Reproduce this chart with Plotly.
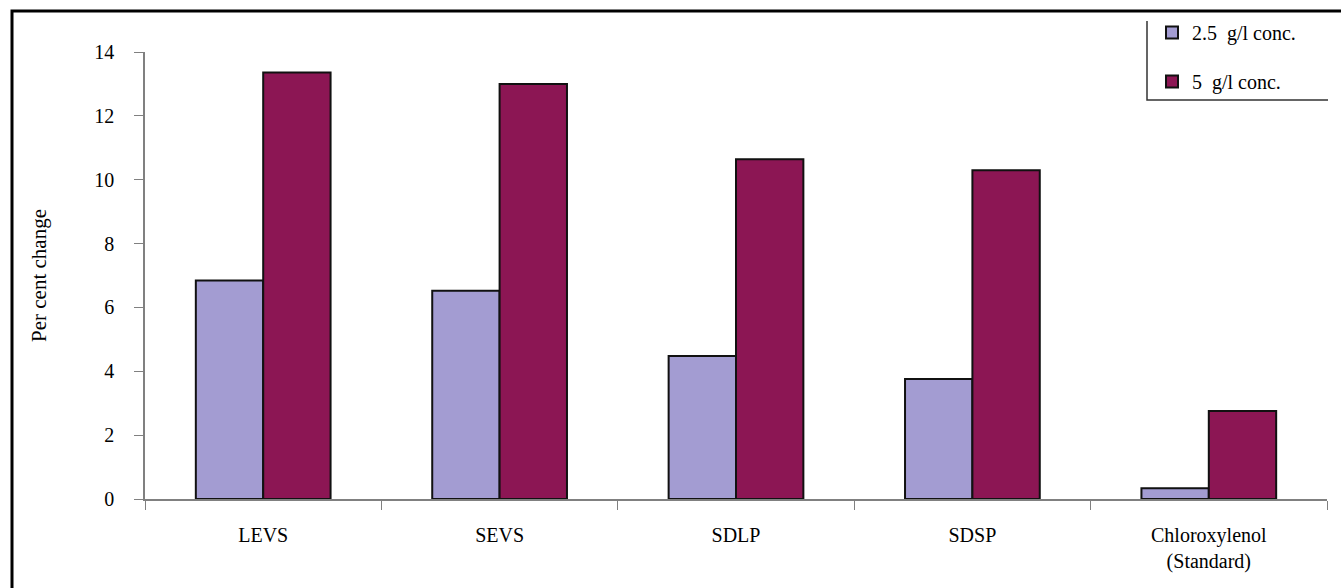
import plotly.graph_objects as go

# Data
categories = ["LEVS", "SEVS", "SDLP", "SDSP", "Chloroxylenol<br>(Standard)"]
conc_25 = [6.84, 6.52, 4.48, 3.76, 0.34]
conc_5 = [13.36, 13.0, 10.64, 10.3, 2.76]
series_names = ["2.5  g/l conc.", "5  g/l conc."]
y_ticks = [0, 2, 4, 6, 8, 10, 12, 14]

FONT = "Liberation Serif, Times New Roman, serif"
LAV = "#a39cd2"
MAROON = "#8c1654"

fig = go.Figure()
fig.add_trace(go.Bar(
    x=categories, y=conc_25, name=series_names[0], legendgroup="a",
    marker=dict(color=LAV, line=dict(color="#111111", width=2)),
))
fig.add_trace(go.Bar(
    x=categories, y=conc_5, name=series_names[1], legendgroup="b",
    marker=dict(color=MAROON, line=dict(color="#111111", width=2)),
))

# plot area geometry in pixels (for placing frame lines)
L, R, T, B = 145, 1327, 52, 499
W, H = R - L, B - T


def px(x):
    return (x - L) / W


def py(y):
    return (B - y) / H


shapes = [
    # outer frame (left and top edges)
    dict(type="path", xref="paper", yref="paper",
         path=f"M {px(12)} {py(600)} L {px(12)} {py(11)} L {px(1345)} {py(11)}",
         line=dict(color="black", width=3)),
    # legend frame (left and bottom edges)
    dict(type="path", xref="paper", yref="paper",
         path=f"M {px(1147)} {py(21)} L {px(1147)} {py(100)} L {px(1328)} {py(100)}",
         line=dict(color="#333333", width=1.5)),
]

fig.update_layout(
    width=1341, height=588,
    margin=dict(l=L, r=1341 - R, t=T, b=588 - B),
    paper_bgcolor="white", plot_bgcolor="white",
    barmode="group", bargap=0.43, bargroupgap=0,
    font=dict(family=FONT, size=20, color="black"),
    shapes=shapes,
    showlegend=True,
    legend=dict(
        x=px(1152), y=py(13), xanchor="left", yanchor="top",
        traceorder="grouped", tracegroupgap=20,
        font=dict(family=FONT, size=20, color="black"),
        bgcolor="rgba(0,0,0,0)", itemwidth=30,
    ),
    xaxis=dict(
        type="category", tickson="boundaries",
        showline=True, linecolor="#808080", linewidth=1.5,
        ticks="outside", ticklen=9, tickcolor="#808080",
        tickfont=dict(family=FONT, size=20),
        ticklabelstandoff=17,
        showgrid=False, zeroline=False,
    ),
    yaxis=dict(
        range=[0, 14], tickvals=y_ticks,
        showline=True, linecolor="#808080", linewidth=1.5,
        ticks="outside", ticklen=9, tickcolor="#808080",
        tickfont=dict(family=FONT, size=20),
        ticklabelstandoff=16,
        showgrid=False, zeroline=False,
        title=dict(text="Per cent change", font=dict(family=FONT, size=21), standoff=42),
    ),
)

fig.write_html("out.html")
